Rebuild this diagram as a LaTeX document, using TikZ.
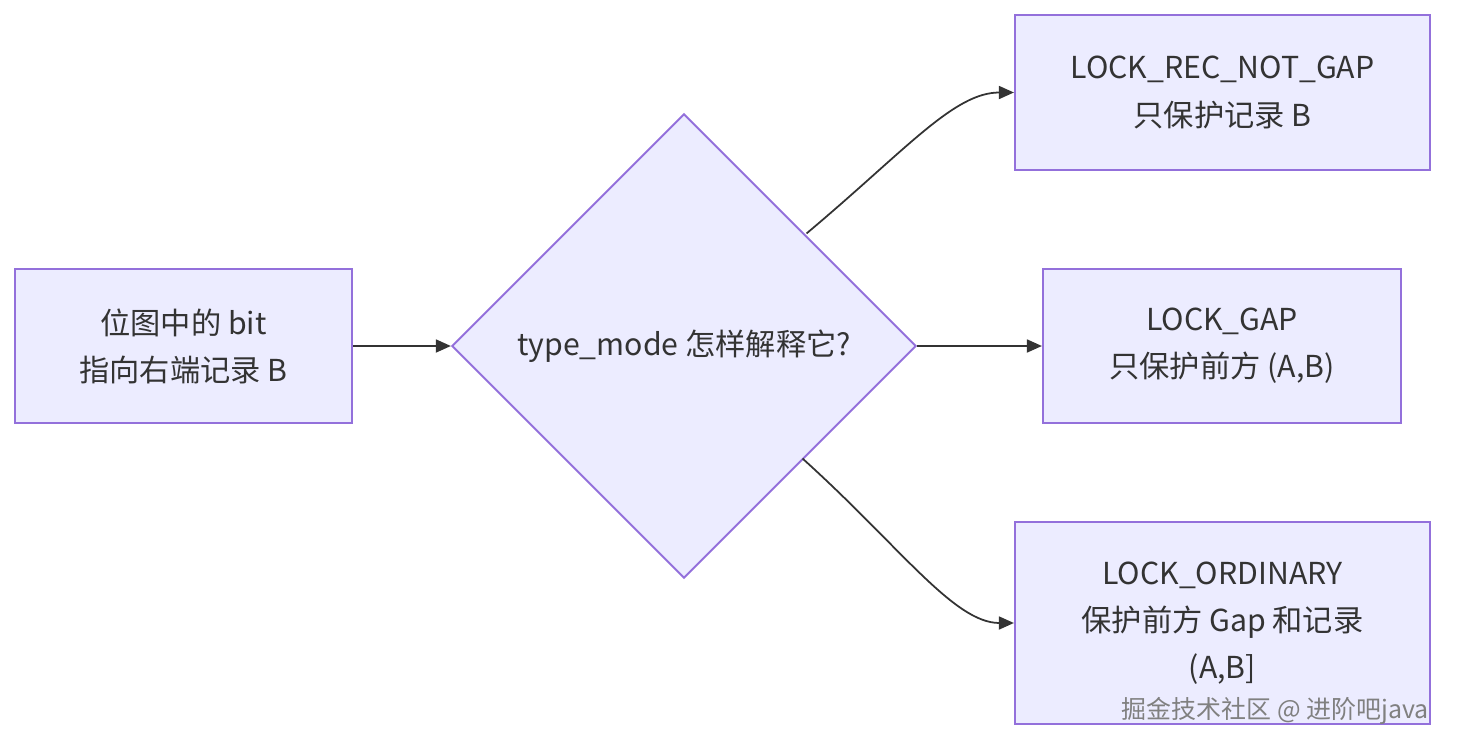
\documentclass[tikz,border=0pt]{standalone}
\usepackage{fontspec}
\setmainfont{Noto Sans CJK SC}
\usetikzlibrary{shapes.geometric,arrows.meta}
\definecolor{boxfill}{HTML}{ECECFF}
\definecolor{boxline}{HTML}{9370DB}
\definecolor{ink}{HTML}{333333}
\begin{document}
\begin{tikzpicture}[x=0.01cm,y=-0.01cm,
	box/.style={draw=boxline,fill=boxfill,line width=0.55pt,text=ink,align=center,inner sep=0pt,
		font=\fontsize{8.6}{13.4}\selectfont},
	choice/.style={diamond,draw=boxline,fill=boxfill,line width=0.55pt,text=ink,inner sep=0pt,
		minimum width=4.64cm,minimum height=4.64cm,font=\fontsize{8.6}{13.4}\selectfont},
	arr/.style={draw=ink,line width=0.5pt,-{Triangle[length=0.15cm,width=0.13cm]}}]
	\useasboundingbox (0,0) rectangle (1462,748);
	% nodes
	\node [box,minimum width=3.37cm,minimum height=1.54cm] (bit) at (183.5,346) {位图中的 bit\\指向右端记录 B};
	\node [choice] (mode) at (684,346) {type\_mode 怎样解释它?};
	\node [box,minimum width=4.15cm,minimum height=1.55cm] (rec) at (1222.5,92.5) {LOCK\_REC\_NOT\_GAP\\只保护记录 B};
	\node [box,minimum width=3.58cm,minimum height=1.54cm] (gap) at (1222,346) {LOCK\_GAP\\只保护前方 (A,B)};
	\node [box,minimum width=4.15cm,minimum height=2.02cm] (ord) at (1222.5,623) {LOCK\_ORDINARY\\保护前方 Gap 和记录\\(A,B]};
	% edges
	\draw[arr] (bit) -- (mode);
	\draw[arr] (mode) -- (gap);
	\draw[arr] ([shift={(6,4)}]mode.north east) .. controls +(40:1.3cm) and +(-0.6cm,0) .. (rec.west);
	\draw[arr] ([shift={(2,-4)}]mode.south east) .. controls +(-42:1.3cm) and +(-0.6cm,0) .. (ord.west);
	% watermark
	\node [text=gray,font=\fontsize{7.1}{8}\selectfont,anchor=east] (mark) at (1441,711) {掘金技术社区 @ 进阶吧java};
\end{tikzpicture}
\end{document}
